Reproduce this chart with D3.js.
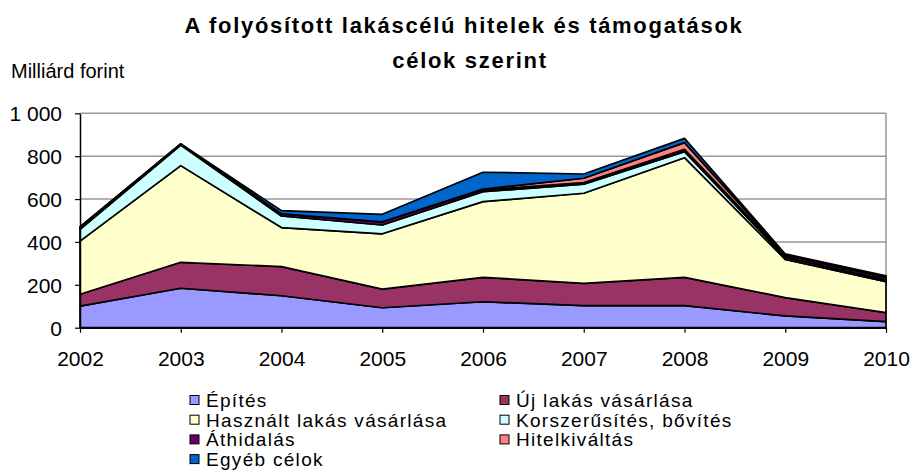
<!DOCTYPE html>
<html>
<head>
<meta charset="utf-8">
<script src="https://cdn.jsdelivr.net/npm/d3@7"></script>
<style>
  html, body { margin: 0; padding: 0; background: #fff; overflow: hidden; }
  svg { display: block; }
  text { font-family: "Liberation Sans", Arial, sans-serif; fill: #000; }
</style>
</head>
<body>
<div id="chart"></div>
<script>
// data (milliard forint)
var years = [2002, 2003, 2004, 2005, 2006, 2007, 2008, 2009, 2010];
var epites        = [101, 184, 149,  93, 121, 103, 103,  55,  28];
var ujLakas       = [ 55, 121, 136,  87, 114, 104, 132,  85,  42];
var hasznalt      = [248, 451, 182, 258, 353, 420, 558, 179, 145];
var korszerusites = [ 55,  96,  54,  41,  46,  42,  28,   9,   8];
var athidalas     = [ 11,   5,  10,  15,   8,   8,  11,  10,  12];
var hitelkivaltas = [  0,   0,   0,   0,   5,  20,  31,   3,   4];
var egyeb         = [  0,   0,  15,  35,  78,  20,  20,   3,   3];
var yTicks = [0, 200, 400, 600, 800, 1000];

var seriesNames = ["Építés", "Új lakás vásárlása", "Használt lakás vásárlása",
  "Korszerűsítés, bővítés", "Áthidalás", "Hitelkiváltás", "Egyéb célok"];
var seriesValues = [epites, ujLakas, hasznalt, korszerusites, athidalas, hitelkivaltas, egyeb];
var colors = ["#9999FF", "#993366", "#FFFFCC", "#CCFFFF", "#660066", "#FF8080", "#0066CC"];

var width = 911, height = 472;
var margin = {top: 113.3, right: 25, bottom: 144.3, left: 80};
var innerWidth = width - margin.left - margin.right,
    innerHeight = height - margin.top - margin.bottom;

// build rows for the stack
var rows = years.map(function(y, i) {
  var r = {year: y};
  seriesNames.forEach(function(n, k) { r[n] = seriesValues[k][i]; });
  return r;
});

var x = d3.scaleLinear().domain([2002, 2010]).range([0, innerWidth]);
var y = d3.scaleLinear().domain([0, 1000]).range([innerHeight, 0]);

var svg = d3.select("#chart").append("svg")
    .attr("width", width)
    .attr("height", height);

// title
svg.append("text")
    .attr("x", 464).attr("y", 33)
    .attr("text-anchor", "middle")
    .style("font-size", "22px").style("font-weight", "bold").style("letter-spacing", "1.7px")
    .text("A folyósított lakáscélú hitelek és támogatások");
svg.append("text")
    .attr("x", 470).attr("y", 68)
    .attr("text-anchor", "middle")
    .style("font-size", "22px").style("font-weight", "bold").style("letter-spacing", "1.7px")
    .text("célok szerint");

svg.append("text")
    .attr("x", 11).attr("y", 78)
    .style("font-size", "20px")
    .text("Milliárd forint");

var g = svg.append("g")
    .attr("transform", "translate(" + margin.left + "," + margin.top + ")");

// gridlines
g.selectAll(".grid")
    .data(yTicks.filter(function(d) { return d > 0; }))
  .enter().append("line")
    .attr("x1", 0).attr("x2", innerWidth)
    .attr("y1", function(d) { return y(d); })
    .attr("y2", function(d) { return y(d); })
    .attr("stroke", "#999").attr("stroke-width", 1.5);
g.append("line")
    .attr("x1", innerWidth).attr("x2", innerWidth)
    .attr("y1", 0).attr("y2", innerHeight)
    .attr("stroke", "#999").attr("stroke-width", 1.5);

// stacked areas
var stack = d3.stack().keys(seriesNames);
var area = d3.area()
    .x(function(d) { return x(d.data.year); })
    .y0(function(d) { return y(d[0]); })
    .y1(function(d) { return y(d[1]); });

g.selectAll(".layer")
    .data(stack(rows))
  .enter().append("path")
    .attr("class", "layer")
    .attr("d", area)
    .attr("fill", function(d, i) { return colors[i]; })
    .attr("stroke", "#000")
    .attr("stroke-width", 1.7)
    .attr("stroke-linejoin", "round");

// axes
var xAxis = g.append("g")
    .attr("transform", "translate(0," + innerHeight + ")")
    .call(d3.axisBottom(x).tickValues(years).tickFormat(d3.format("d")).tickSize(5).tickSizeOuter(0));
var yAxis = g.append("g")
    .call(d3.axisLeft(y).tickValues(yTicks)
      .tickFormat(function(d) { return d3.format(",")(d).replace(",", " "); })
      .tickSize(5).tickSizeOuter(0));

[xAxis, yAxis].forEach(function(a) {
  a.select(".domain").attr("stroke", "#000").attr("stroke-width", 1.5);
  a.selectAll(".tick line").attr("stroke", "#000").attr("stroke-width", 1.2);
  a.selectAll("text").style("font-size", "21px").attr("fill", "#000")
    .style("font-family", "'Liberation Sans', Arial, sans-serif");
});
xAxis.selectAll("text").attr("y", 38).attr("dy", null);
yAxis.selectAll("text").attr("x", -18).attr("dy", "0.36em");

// legend
var legend = svg.append("g").selectAll(".legend")
    .data(seriesNames)
  .enter().append("g")
    .attr("transform", function(d, i) {
      var col = (i < 6) ? i % 2 : 0;
      var row = Math.floor(i / 2);
      return "translate(" + (190 + col * 310) + "," + (400 + row * 19.7) + ")";
    });
legend.append("rect")
    .attr("x", 0).attr("y", -4.5)
    .attr("width", 9).attr("height", 9)
    .attr("fill", function(d, i) { return colors[i]; })
    .attr("stroke", "#000").attr("stroke-width", 1);
legend.append("text")
    .attr("x", 16).attr("y", 0).attr("dy", "0.36em")
    .style("font-size", "19px").style("letter-spacing", "1.3px")
    .text(function(d) { return d; });
</script>
</body>
</html>
